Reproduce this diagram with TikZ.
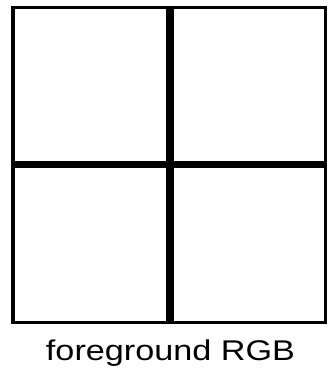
\documentclass[tikz,border=0pt]{standalone}
\usepackage{fontspec}
\setmainfont{Liberation Sans}
\begin{document}
\begin{tikzpicture}[x=1pt,y=1pt,
  frame/.style={line width=3.5pt},
  divider/.style={line width=7.5pt},
  caption/.style={inner sep=0pt, anchor=base, font=\fontsize{28.5}{30}\selectfont, xscale=1.2}]
\useasboundingbox (0,0) rectangle (328,372);
\draw[frame] (13,49.5) rectangle (325.5,364.5);
\draw[divider] (170,49.5) -- (170,364.5);
\draw[divider] (13,207.5) -- (325.5,207.5);
\node[caption] (cap) at (170.5,12) {foreground RGB};
\end{tikzpicture}
\end{document}
